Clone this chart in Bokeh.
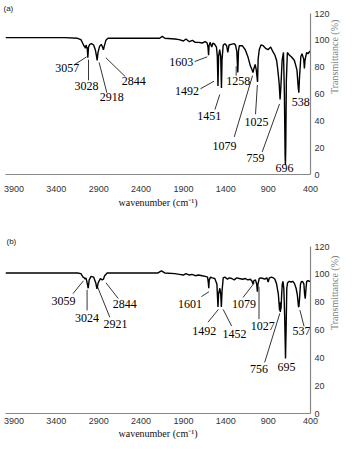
import math
from bokeh.plotting import figure
from bokeh.layouts import column
from bokeh.models import Range1d, FixedTicker
from bokeh.core.properties import value
from bokeh.embed import file_html
from bokeh.resources import INLINE

# ---------------- data: spectrum (a) ----------------
wn_a = [4000, 3600, 3300, 3150, 3110, 3090, 3075, 3062, 3057, 3050, 3042, 3035, 3028, 3020,
        3005, 2985, 2960, 2940, 2928, 2918, 2908, 2890, 2870, 2855, 2844, 2835, 2815, 2790,
        2600, 2300, 2180, 2150, 2120, 2000, 1950, 1900, 1870, 1830, 1794, 1760, 1718, 1680,
        1642, 1620, 1610, 1603, 1597, 1585, 1566, 1550, 1530, 1510, 1500, 1492, 1485, 1472,
        1460, 1451, 1444, 1430, 1410, 1390, 1376, 1362, 1338, 1300, 1285, 1270, 1258, 1250,
        1240, 1205, 1170, 1140, 1110, 1090, 1079, 1068, 1053, 1040, 1025, 1018, 1005, 985,
        958, 930, 901, 870, 844, 820, 800, 787, 770, 759, 750, 735, 719, 708, 700, 696,
        692, 685, 673, 650, 630, 616, 590, 560, 545, 538, 530, 514, 500, 480, 472, 465,
        446, 430, 408, 400]
tr_a = [102, 102, 102, 101.5, 100.5, 98, 96, 95, 94, 96.5, 95, 94, 87, 95,
        97, 97.5, 96.5, 93, 89, 85, 91, 95.5, 97, 95, 93, 95.5, 100, 101.5,
        101.5, 101.5, 101.5, 103, 101.5, 101, 100.5, 99.5, 101, 99, 100, 98.5, 98.5, 98,
        99, 98, 95, 89, 96, 98.5, 95, 98, 97, 95, 88, 66, 88, 93,
        88, 64.5, 86, 96.5, 97.5, 96, 91, 96.5, 97, 97.5, 96.5, 92, 76, 92,
        96, 96, 93, 88, 81, 78, 76, 79, 82, 78, 69, 86, 93, 96.5,
        96, 94, 93, 95, 91.5, 89, 85, 78.5, 68, 56, 65, 85, 91, 60, 15, 7,
        20, 70, 91, 89, 88, 87, 85, 78, 65, 61, 72, 88, 90, 86, 79, 85,
        91, 90, 92, 91]

# ---------------- data: spectrum (b) ----------------
wn_b = [4000, 3600, 3300, 3150, 3110, 3085, 3070, 3059, 3050, 3040, 3024, 3012, 2990, 2960,
        2935, 2921, 2905, 2880, 2860, 2844, 2830, 2800, 2500, 2200, 2160, 2120, 2000, 1950,
        1900, 1870, 1830, 1800, 1760, 1720, 1680, 1640, 1615, 1606, 1601, 1595, 1580, 1560,
        1530, 1505, 1492, 1485, 1470, 1460, 1452, 1444, 1430, 1410, 1380, 1360, 1330, 1300,
        1270, 1240, 1200, 1170, 1140, 1110, 1090, 1079, 1068, 1050, 1035, 1027, 1020, 1005,
        985, 960, 940, 915, 900, 885, 860, 840, 820, 800, 780, 765, 760, 756, 752, 748, 740, 733,
        725, 715, 705, 695, 688, 680, 670, 650, 630, 610, 590, 570, 555, 542, 537, 530,
        518, 505, 490, 478, 470, 462, 455, 445, 430, 415, 400]
tr_b = [101, 101, 101, 101, 100.5, 98, 97.5, 96.5, 97.5, 95, 90, 96, 98.5, 98,
        94, 89.5, 94, 97, 96, 96.5, 99, 101, 101, 101, 102.5, 101, 100.5, 100,
        99.5, 100.5, 99.5, 100, 99, 99.5, 99, 98.5, 98, 94, 90, 96, 98, 97.5,
        97, 93, 76.5, 86, 90, 86, 76.5, 88, 97.5, 98, 96.5, 97.5, 97, 96,
        97.5, 97, 96.5, 97, 96, 96.5, 95, 93, 95.5, 96, 93, 87.5, 93, 97,
        97.5, 97, 96.5, 97.5, 94.5, 97.5, 98, 97.5, 96.5, 93, 86, 74, 80, 73, 78, 75, 86, 93,
        95, 90, 70, 39.5, 60, 90, 94, 95, 94.5, 95, 93.5, 90, 85, 77, 76.5, 82,
        93, 95, 94.5, 93, 86, 82.5, 88, 95, 95.5, 95, 95]

# ---------------- peak labels ----------------
peaks_a = ["3057", "3028", "2918", "2844", "1603", "1492", "1451", "1258",
           "1079", "1025", "759", "696", "538"]
label_x_a = [3271, 3043, 2747, 2485, 1927, 1858, 1596, 1254, 1414, 1038, 1049, 708, 514]
label_y_a = [79.3, 66, 57.5, 69.5, 84.2, 62.5, 43.5, 69.5, 21, 39.3, 12.6, 4.9, 54]
lead_x0_a = [3180, 3020, 2804, 2587, 1767, 1699, 1528, 1277, 1300, 1049, 970]
lead_y0_a = [82.1, 70.2, 61, 73, 84.2, 63.9, 48.4, 73.7, 28, 44.9, 16.8]
lead_x1_a = [3043, 3020, 2895, 2815, 1619, 1539, 1471, 1277, 1084, 1027, 765]
lead_y1_a = [87.7, 85.6, 83.5, 87, 87.7, 69.5, 59.6, 80.7, 73.7, 66.7, 52.6]

peaks_b = ["3059", "3024", "2921", "2844", "1601", "1492", "1452", "1079",
           "1027", "756", "695", "537"]
label_x_b = [3315, 3037, 2701, 2591, 1821, 1654, 1297, 1186, 963, 1008, 684, 506]
label_y_b = [80.5, 68.5, 64.2, 79, 78.4, 59.3, 57.2, 78.4, 62.8, 31.8, 33.2, 59.3]
lead_x0_b = [3204, 3037, 2769, 2669, 1688, 1610, 1331, 1197, 1008, 941, 476]
lead_y0_b = [86.1, 74.1, 69.2, 82.6, 84, 65.6, 62.8, 83.3, 67.8, 36.7, 62.6]
lead_x1_b = [3081, 3037, 2914, 2814, 1598, 1487, 1431, 1063, 1008, 762, 525]
lead_y1_b = [95.3, 88.9, 91.1, 93.9, 87.5, 74.8, 74.8, 93.9, 91, 72, 74.3]

x_ticks = [3900, 3400, 2900, 2400, 1900, 1400, 900, 400]
y_ticks = [0, 20, 40, 60, 80, 100, 120]


def panel(tag, wn, tr, peaks, lx, ly, x0, y0, x1, y1, height, bl, bt, bb, toff,
          xls, xas):
    p = figure(width=348, height=height, x_range=Range1d(4000, 400),
               y_range=Range1d(0, 120), y_axis_location="right",
               output_backend="svg", toolbar_location=None,
               min_border_left=bl, min_border_right=30, min_border_top=bt,
               min_border_bottom=bb)
    p.outline_line_color = None
    p.xgrid.visible = False
    p.ygrid.visible = False
    p.background_fill_color = "white"
    p.border_fill_color = "white"

    p.title.text = tag
    p.title.text_font = "Liberation Sans"
    p.title.text_font_size = "8px"
    p.title.text_font_style = "normal"
    p.title.text_color = "#222222"
    p.title.align = "left"
    p.title.offset = toff
    p.title.standoff = 2

    for ax in (p.xaxis[0], p.yaxis[0]):
        ax.axis_line_color = "#888888"
        ax.axis_line_width = 1.2
        ax.major_tick_line_color = None
        ax.minor_tick_line_color = None
        ax.major_tick_out = 0
        ax.major_tick_in = 0
        ax.minor_tick_out = 0
        ax.minor_tick_in = 0
        ax.major_label_text_font = "Liberation Sans"
        ax.major_label_text_font_size = "9px"
        ax.major_label_text_color = "#333333"
        ax.axis_label_text_font_style = "normal"

    p.xaxis.ticker = FixedTicker(ticks=x_ticks)
    p.xaxis.major_label_standoff = xls
    p.xaxis.axis_label = "wavenumber (cm\u207b\u00b9)"
    p.xaxis.axis_label_text_font = "Liberation Serif"
    p.xaxis.axis_label_text_font_size = "10px"
    p.xaxis.axis_label_text_color = "#111111"
    p.xaxis.axis_label_standoff = xas

    p.yaxis.ticker = FixedTicker(ticks=y_ticks)
    p.yaxis.major_label_standoff = 4
    p.yaxis.axis_label = "Transmittance (%)"
    p.yaxis.axis_label_text_font = "Liberation Serif"
    p.yaxis.axis_label_text_font_size = "10px"
    p.yaxis.axis_label_text_color = "#808080"
    p.yaxis.axis_label_standoff = 2
    p.yaxis.axis_label_orientation = math.pi / 2

    p.line(wn, tr, line_color="black", line_width=1.4)
    p.segment(x0=x0, y0=y0, x1=x1, y1=y1, line_color="black", line_width=0.8)
    p.text(x=lx, y=ly, text=peaks, text_font=value("Liberation Serif"),
           text_font_size="12px", text_align="center", text_baseline="middle",
           text_color="black")
    return p


pa = panel("(a)", wn_a, tr_a, peaks_a, label_x_a, label_y_a,
           lead_x0_a, lead_y0_a, lead_x1_a, lead_y1_a, 222, 5, 8, 48, -2, 11, 2)
pb = panel("(b)", wn_b, tr_b, peaks_b, label_x_b, label_y_b,
           lead_x0_b, lead_y0_b, lead_x1_b, lead_y1_b, 219, 0, 24, 28, 1, 4, 1)

layout = column(pa, pb, spacing=0)
open("out.html", "w").write(file_html(layout, INLINE))
